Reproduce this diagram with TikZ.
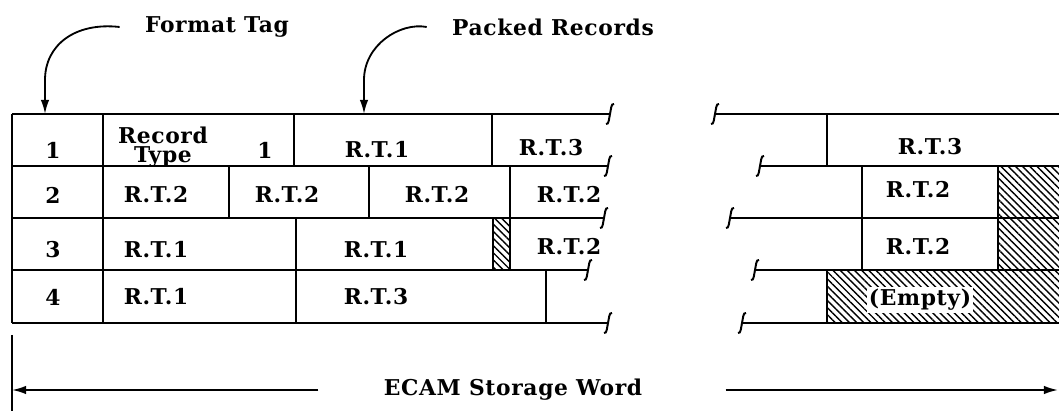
\documentclass[tikz,border=0pt]{standalone}
\usepackage{fontspec}
\setmainfont{DejaVu Serif}
\usetikzlibrary{patterns.meta,arrows.meta}
\tikzset{
 txt/.style={font=\fontsize{15.5}{16}\selectfont\bfseries\addfontfeatures{LetterSpace=3},inner sep=0pt},
 brk/.pic={\draw[line width=1.4pt] (-4,10) .. controls (-1,11) and (-1,4) .. (0,0) .. controls (1,-4) and (1,-11) .. (4,-10);},
 hatch/.style={pattern={Lines[angle=-45,distance=3.6pt,line width=1pt]}},
 arr/.style={line width=1.3pt,-{Latex[length=10pt,width=6pt]}},
}
\begin{document}
\begin{tikzpicture}[x=0.025cm,y=-0.025cm,line width=2.1pt]
\useasboundingbox (0,0) rectangle (1059,411);
% hatched parts
\fill[hatch] (493,218) rectangle (510,270);
\fill[hatch] (998,166) rectangle (1059,270);
\fill[hatch] (827,270) rectangle (1059,323);
% left part of the word
\foreach \y/\e in {114/610,166/608,218/604,270/588,323/608}
  {\draw (12,\y) -- (\e,\y); \pic at (\e,\y) {brk};}
\draw (12,114) -- (12,323) (103,114) -- (103,323);
\foreach \x in {294,492} {\draw (\x,114) -- (\x,166);}
\foreach \x in {229,369,510} {\draw (\x,166) -- (\x,218);}
\foreach \x in {296,493,510} {\draw (\x,218) -- (\x,270);}
\foreach \x in {296,546} {\draw (\x,270) -- (\x,323);}
% right part of the word
\foreach \y/\s in {114/715,166/760,218/730,270/755,323/742}
  {\draw (\s,\y) -- (1059,\y); \pic at (\s,\y) {brk};}
\draw (827,114) -- (827,166) (862,166) -- (862,270) (998,166) -- (998,270) (827,270) -- (827,323);
% cell texts
\foreach \n/\x/\y/\t in {n1/53/150/1,n2/53/195/2,n3/53/250/3,n4/53/297/4,
  a/265/150/1,b/377/150/R.T.1,c/551/148/R.T.3,
  d/156/195/R.T.2,e/287/195/R.T.2,f/437/195/R.T.2,g/569/195/R.T.2,
  h/156/250/R.T.1,i/376/250/R.T.1,j/569/247/R.T.2,
  k/156/297/R.T.1,l/376/297/R.T.3,
  m/930/147/R.T.3,o/918/190/R.T.2,p/918/247/R.T.2}
  {\node[txt] (c\n) at (\x,\y) {\t};}
\node[txt,align=center] (rtype) at (163,147) {Record\\[-2pt]Type};
\node[txt,fill=white,inner sep=1.5pt] (empty) at (920,300) {(Empty)};
% labels and arrows
\node[txt] (ftag) at (217,27) {Format Tag};
\node[txt] (packed) at (553,27) {Packed Records};
\coordinate (ftip) at (45,114);
\coordinate (ptip) at (364,114);
\draw[arr] ([xshift=-0.6cm]ftag.west) .. controls (75,22) and (45,45) .. (45,80) -- (ftip);
\draw[arr] ([xshift=-0.6cm]packed.west) .. controls (400,22) and (364,45) .. (364,80) -- (ptip);
\node[txt] (ecam) at (513,390) {ECAM Storage Word};
\coordinate (lend) at (12,390);
\coordinate (rend) at (1058,390);
\draw[arr] ([xshift=-1.6cm]ecam.west) -- (lend);
\draw[arr] ([xshift=2.05cm]ecam.east) -- (rend);
\draw[line width=1.2pt] (12,335) -- (12,411);
\end{tikzpicture}
\end{document}
